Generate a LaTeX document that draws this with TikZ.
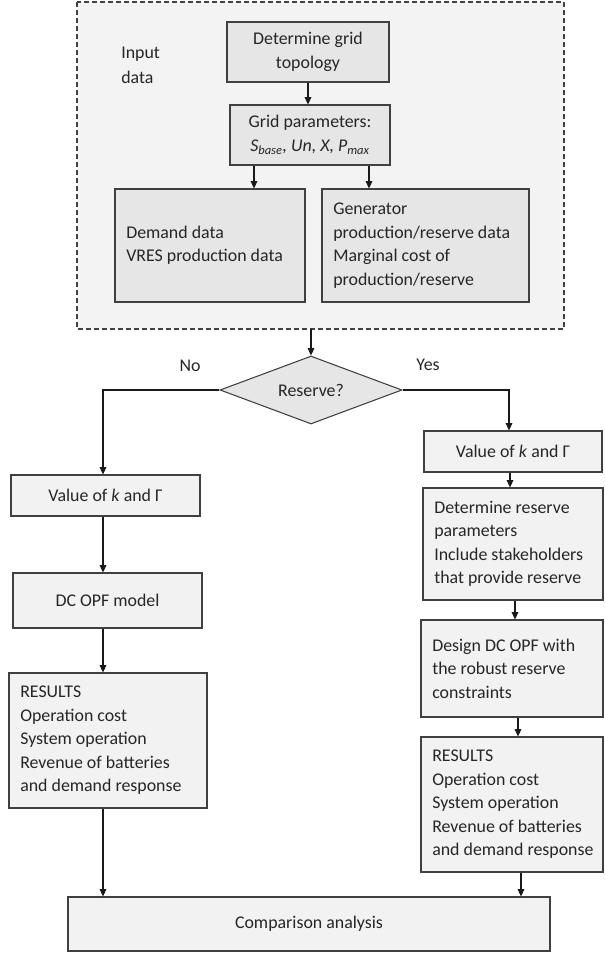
\documentclass[tikz,border=0pt]{standalone}
\usepackage{fontspec}
\setmainfont{Carlito}
\usepackage{tikz}
\usetikzlibrary{shapes.geometric,arrows.meta}
\newcommand{\px}{0.75pt}
\definecolor{framefill}{HTML}{F3F3F3}
\definecolor{darkfill}{HTML}{E6E6E6}
\definecolor{lightfill}{HTML}{F2F2F2}
\definecolor{edgegray}{HTML}{404040}
\newcommand{\flowbox}[7]{
	\node[#1, align=center, minimum width={(#5-#3)*\px}, minimum height={(#6-#4)*\px}] (#2) at ({(#3+#5)/2},{(#4+#6)/2}) {#7};
}
\newcommand{\listbox}[7]{
	\node[#1, minimum width={(#5-#3)*\px}, minimum height={(#6-#4)*\px}] (#2) at ({(#3+#5)/2},{(#4+#6)/2}) {};
	\node[align=left, anchor=west, inner sep=0pt, text=black!85] (#2t) at ({#3+11},{(#4+#6)/2}) {#7};
}

\begin{document}
\begin{tikzpicture}[x=\px,y=-\px,
	every node/.style={font=\fontsize{13.4}{17.6}\selectfont},
	box/.style={draw=edgegray, line width=0.8pt, inner sep=2pt, text=black!85},
	inbox/.style={box, fill=darkfill},
	outbox/.style={box, fill=lightfill},
	arr/.style={draw=black!90, line width=0.8pt, -{Triangle[length=5.5pt,width=5pt]}}]
	\useasboundingbox (0,0) rectangle (604,956);

	% input data
	\draw[fill=framefill, draw=edgegray, line width=0.8pt, dash pattern=on 3.75pt off 2.25pt] (77,2) rectangle (564,329);
	\coordinate (In) at (311,329);
	\node[align=left, anchor=west, inner sep=0pt, text=black!85] (inlbl) at (121,65.5) {Input\\[1pt]data};

	\flowbox{inbox}{T}{227}{22}{389}{82}{Determine grid\\topology}
	\flowbox{inbox}{P}{230}{105}{390}{165}{Grid parameters:\\\textit{S\textsubscript{base}, Un, X, P\textsubscript{max}}}
	\listbox{inbox}{D}{115}{189}{305}{302}{Demand data\\VRES production data}
	\listbox{inbox}{G}{322}{189}{529}{302}{Generator\\production/reserve data\\Marginal cost of\\production/reserve}

	\draw[arr] (T.south) -- (T.south |- P.north);
	\draw[arr] (P.south -| 254,0) -- (D.north -| 254,0);
	\draw[arr] (P.south -| 369,0) -- (G.north -| 369,0);

	% decision
	\node[diamond, aspect=2.68, draw=edgegray, fill=darkfill, line width=0.8pt, inner sep=0pt,
		minimum width=182*\px, minimum height=68*\px, text=black!85] (Q) at (311,390) {Reserve?};
	\node[text=black!85] (no) at (190,366) {No};
	\node[text=black!85] (yes) at (428,365) {Yes};
	\draw[arr] (In) -- (Q.north);

	% no reserve
	\coordinate (lx) at (103,0);
	\flowbox{outbox}{L1}{11}{475}{200}{516}{Value of \textit{k} and Γ}
	\flowbox{outbox}{L2}{13}{573}{202}{628}{DC OPF model}
	\listbox{outbox}{L3}{9}{673}{207}{808}{RESULTS\\Operation cost\\System operation\\Revenue of batteries\\and demand response}

	% with reserve
	\flowbox{outbox}{R1}{424}{431}{602}{472}{Value of \textit{k} and Γ}
	\listbox{outbox}{R2}{423}{488}{603}{600}{Determine reserve\\parameters\\Include stakeholders\\that provide reserve}
	\listbox{outbox}{R3}{421}{620}{603}{717}{Design DC OPF with\\the robust reserve\\constraints}
	\listbox{outbox}{R4}{421}{737}{603}{872}{RESULTS\\Operation cost\\System operation\\Revenue of batteries\\and demand response}

	\flowbox{outbox}{C}{68}{897}{550}{951}{Comparison analysis}

	\draw[arr] (Q.west) -| (L1.north -| lx);
	\draw[arr] (Q.east) -| (R1.north -| 509,0);
	\draw[arr] (L1.south -| lx) -- (L2.north -| lx);
	\draw[arr] (L2.south -| lx) -- (L3.north -| lx);
	\draw[arr] (L3.south -| lx) -- (C.north -| lx);
	\draw[arr] (R1.south -| 510,0) -- (R2.north -| 510,0);
	\draw[arr] (R2.south -| 515,0) -- (R3.north -| 515,0);
	\draw[arr] (R3.south -| 518,0) -- (R4.north -| 518,0);
	\draw[arr] (R4.south -| 521,0) -- (C.north -| 521,0);
\end{tikzpicture}
\end{document}
